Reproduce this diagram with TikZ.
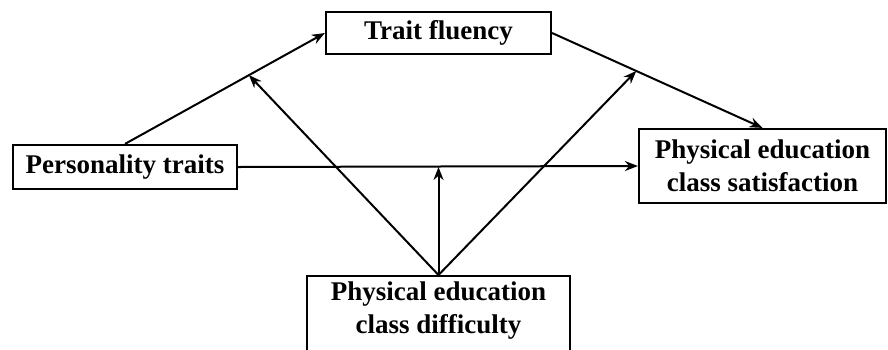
\documentclass[tikz,border=0pt]{standalone}
\usepackage{fontspec}
\setmainfont{Liberation Serif}
\usetikzlibrary{arrows.meta,calc}

\begin{document}
\begin{tikzpicture}[
x=1pt,y=-1pt,
box/.style={draw=black,line width=2.2pt,fill=white,align=center,inner sep=0pt,font=\fontsize{27}{33}\selectfont\bfseries},
arr/.style={-{Stealth[length=13pt,width=10pt]},line width=2pt}
]
\useasboundingbox (0,0) rectangle (888,349);
\clip (0,0) rectangle (888,349);
\node[box,minimum width=224pt,minimum height=44pt] (pers) at (125,167) {Personality traits};
\node[box,minimum width=225pt,minimum height=42pt] (flu) at (438.5,33) {Trait fluency};
\node[box,minimum width=247pt,minimum height=74pt] (sat) at (762.5,166) {Physical education\\class satisfaction};
\node[box,anchor=north,minimum width=263pt,inner sep=6pt,text depth=20pt] (diff) at (438.5,275) {Physical education\\class difficulty};
\coordinate (m1) at ($(pers.north)!0.62!(flu.west)$);
\coordinate (m2) at (diff.north |- pers.east);
\coordinate (m3) at ($(flu.east)!0.4!(sat.north)$);
\draw[arr] (pers.north) -- (flu.west);
\draw[arr] (flu.east) -- (sat.north);
\draw[arr] (pers.east) -- (sat.west);
\draw[arr] (diff.north) -- (m1);
\draw[arr] (diff.north) -- (m2);
\draw[arr] (diff.north) -- (m3);
\end{tikzpicture}
\end{document}
